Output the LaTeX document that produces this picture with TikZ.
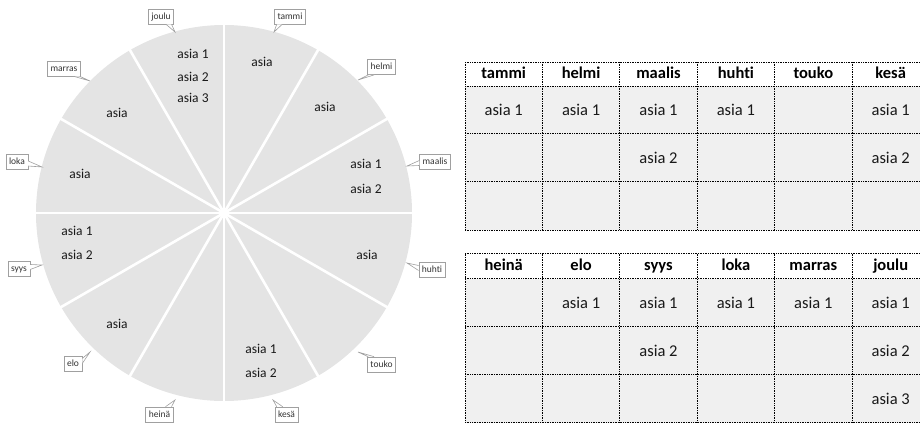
\documentclass[tikz,border=0pt]{standalone}
\usepackage{fontspec}
\setmainfont{Carlito}[RawFeature={-liga;-clig;-dlig}]
\usetikzlibrary{calc}
\definecolor{piegray}{RGB}{228,228,228}
\definecolor{cellgray}{RGB}{240,240,240}
\definecolor{boxline}{RGB}{160,160,160}
\begin{document}
\begin{tikzpicture}[x=1pt,y=-1pt,
  pietext/.style={font=\fontsize{13.5}{16}\selectfont, text=black!90, inner sep=0pt, text height=9.5pt, text depth=0pt},
  callout/.style={draw=boxline, fill=white, font=\fontsize{9.5}{11}\selectfont, text=black!80,
     inner xsep=3pt, inner ysep=0pt, minimum height=15pt, text height=7pt, text depth=2pt, line width=0.6pt},
  wedge/.style={draw=boxline, fill=white, line width=0.6pt, line join=miter},
  sep/.style={white, line width=2.6pt},
  hdr/.style={font=\fontsize{16.5}{19}\bfseries\selectfont, text=black, inner sep=0pt, text height=11.5pt, text depth=3.5pt},
  cell/.style={font=\fontsize{16.5}{19}\selectfont, text=black!90, inner sep=0pt, text height=11.5pt, text depth=0pt},
  grid/.style={densely dotted, line width=0.7pt, black}]
\clip (0,0) rectangle (920,423);
% ---------------- pie ----------------
\coordinate (c) at (224,213);
\fill[piegray] (c) circle (188pt);
\foreach \a in {0,30,60,90,120,150}
  \draw[sep] ($(c)+(\a:191pt)$) -- ($(c)+(\a+180:191pt)$);
% sector texts
\node[pietext] (t-tammi) at (262,62) {asia};
\node[pietext] (t-helmi) at (325,107) {asia};
\node[pietext] (t-maalis1) at (366,164) {asia 1};
\node[pietext] (t-maalis2) at (366,189) {asia 2};
\node[pietext] (t-huhti) at (367,255) {asia};
\node[pietext] (t-kesa1) at (261,349) {asia 1};
\node[pietext] (t-kesa2) at (261,373) {asia 2};
\node[pietext] (t-elo) at (117,324) {asia};
\node[pietext] (t-syys1) at (77,231) {asia 1};
\node[pietext] (t-syys2) at (77,255) {asia 2};
\node[pietext] (t-loka) at (80,174) {asia};
\node[pietext] (t-marras) at (117,113) {asia};
\node[pietext] (t-joulu1) at (193,54) {asia 1};
\node[pietext] (t-joulu2) at (193,77) {asia 2};
\node[pietext] (t-joulu3) at (193,98) {asia 3};
% callout tips
\coordinate (p-tammi) at (274,32);
\coordinate (p-helmi) at (358,80);
\coordinate (p-maalis) at (407,166);
\coordinate (p-huhti) at (407,263);
\coordinate (p-touko) at (358,352);
\coordinate (p-kesa) at (273,400);
\coordinate (p-heina) at (175,400);
\coordinate (p-elo) at (90,352);
\coordinate (p-syys) at (42,265);
\coordinate (p-loka) at (42,167);
\coordinate (p-marras) at (90,81);
\coordinate (p-joulu) at (175,32);
% callout boxes
\node[callout] (l-tammi) at (290,16.5) {tammi};
\node[callout] (l-helmi) at (381.5,67) {helmi};
\node[callout] (l-maalis) at (435,161.5) {maalis};
\node[callout] (l-huhti) at (432,269.5) {huhti};
\node[callout] (l-touko) at (381.5,364.5) {touko};
\node[callout] (l-kesa) at (286.5,414.5) {kesä};
\node[callout] (l-heina) at (159.5,414.5) {heinä};
\node[callout] (l-elo) at (73,363.5) {elo};
\node[callout] (l-syys) at (19,268.5) {syys};
\node[callout] (l-loka) at (17,162) {loka};
\node[callout] (l-marras) at (64,68.5) {marras};
\node[callout] (l-joulu) at (161,16.5) {joulu};
% wedges
\draw[wedge] ($(l-tammi.south west)+(2.5,0)$) -- (p-tammi) -- ($(l-tammi.south west)+(8,0)$);
\draw[wedge] ($(l-helmi.south west)+(1,0)$) -- (p-helmi) -- ($(l-helmi.south west)+(7,0)$);
\draw[wedge] ($(l-maalis.west)+(0,-1)$) -- (p-maalis) -- ($(l-maalis.west)+(0,4)$);
\draw[wedge] ($(l-huhti.west)+(0,-4)$) -- (p-huhti) -- ($(l-huhti.west)+(0,1)$);
\draw[wedge] ($(l-touko.north west)+(1,0)$) -- (p-touko) -- ($(l-touko.north west)+(7,0)$);
\draw[wedge] ($(l-kesa.north west)+(2,0)$) -- (p-kesa) -- ($(l-kesa.north west)+(8,0)$);
\draw[wedge] ($(l-heina.north east)+(-8,0)$) -- (p-heina) -- ($(l-heina.north east)+(-2,0)$);
\draw[wedge] ($(l-elo.east)+(0,-5)$) -- (p-elo) -- ($(l-elo.east)+(0,0)$);
\draw[wedge] ($(l-syys.east)+(0,-4)$) -- (p-syys) -- ($(l-syys.east)+(0,1)$);
\draw[wedge] ($(l-loka.east)+(0,-1)$) -- (p-loka) -- ($(l-loka.east)+(0,4)$);
\draw[wedge] ($(l-marras.south east)+(-7,0)$) -- (p-marras) -- ($(l-marras.south east)+(-1,0)$);
\draw[wedge] ($(l-joulu.south east)+(-8,0)$) -- (p-joulu) -- ($(l-joulu.south east)+(-2.5,0)$);
% ---------------- tables ----------------
% table 1
\fill[white] (465,62) rectangle (929,86);
\fill[cellgray] (465,86) rectangle (929,230);
\foreach \y in {62,86,133.5,181.5,230} \draw[grid] (465,\y) -- (929,\y);
\foreach \i in {0,...,5} \draw[grid] (465+77.4*\i,62) -- (465+77.4*\i,230);
% table 2
\fill[white] (465,253.5) rectangle (929,278.5);
\fill[cellgray] (465,278.5) rectangle (929,422.5);
\foreach \y in {253.5,278.5,326.5,374.5,422.2} \draw[grid] (465,\y) -- (929,\y);
\foreach \i in {0,...,5} \draw[grid] (465+77.4*\i,253.5) -- (465+77.4*\i,422.5);
% headers
\foreach \n [count=\i from 0] in {tammi,helmi,maalis,huhti,touko,kesä}
  \node[hdr] (ha\i) at (503.7+77.4*\i,74) {\n};
\foreach \n [count=\i from 0] in {heinä,elo,syys,loka,marras,joulu}
  \node[hdr] (hb\i) at (503.7+77.4*\i,266) {\n};
% table 1 cells
\foreach \c/\r/\t in {0/109.75/asia 1,1/109.75/asia 1,2/109.75/asia 1,3/109.75/asia 1,5/109.75/asia 1,
                      2/157.5/asia 2,5/157.5/asia 2}
  \node[cell] (ca-\c-\r) at (503.7+77.4*\c,\r) {\t};
% table 2 cells
\foreach \c/\r/\t in {1/302.5/asia 1,2/302.5/asia 1,3/302.5/asia 1,4/302.5/asia 1,5/302.5/asia 1,
                      2/350.5/asia 2,5/350.5/asia 2,5/398.5/asia 3}
  \node[cell] (cb-\c-\r) at (503.7+77.4*\c,\r) {\t};
\end{tikzpicture}
\end{document}
